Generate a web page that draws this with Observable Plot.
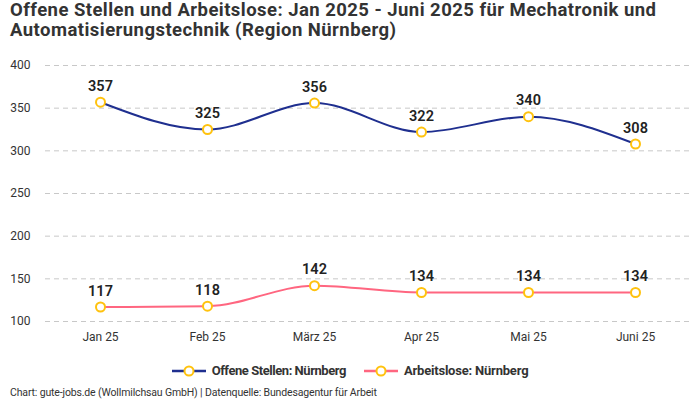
<!DOCTYPE html>
<html>
<head>
<meta charset="utf-8">
<script src="https://cdn.jsdelivr.net/npm/d3@7"></script>
<script src="https://cdn.jsdelivr.net/npm/@observablehq/plot@0.6"></script>
<style>
  body { margin: 0; background: #fff; font-family: Roboto, sans-serif; width: 700px; height: 400px; overflow: hidden; }
  #title { position: absolute; left: 10px; top: 0px; font-weight: 700; font-size: 18.5px; line-height: 20px; letter-spacing: 0.45px; color: #333; width: 690px; }
  #chart { position: absolute; left: 0; top: 45px; }
  #legend { position: absolute; left: 0; top: 363px; width: 700px; text-align: center; font-size: 13px; font-weight: 700; color: #333; letter-spacing: -0.2px; }
  #legend span.item { display: inline-flex; align-items: center; margin: 0 9px; }
  #legend svg { margin-right: 6px; }
  #legend span.item:first-child { letter-spacing: -0.45px; }
  #footer { position: absolute; left: 10px; top: 386px; font-size: 10.5px; color: #333; letter-spacing: -0.15px; }
</style>
</head>
<body>
<div id="title">Offene Stellen und Arbeitslose: Jan 2025 - Juni 2025 für Mechatronik und Automatisierungstechnik (Region Nürnberg)</div>
<div id="chart"></div>
<div id="legend"></div>
<div id="footer">Chart: gute-jobs.de (Wollmilchsau GmbH) | Datenquelle: Bundesagentur für Arbeit</div>
<script>
const months = ["Jan 25", "Feb 25", "März 25", "Apr 25", "Mai 25", "Juni 25"];
const offeneStellen = [357, 325, 356, 322, 340, 308];
const arbeitslose = [117, 118, 142, 134, 134, 134];
const seriesNames = ["Offene Stellen: Nürnberg", "Arbeitslose: Nürnberg"];
const seriesColors = ["#1f2f8f", "#ff6680"];
const yTicks = [100, 150, 200, 250, 300, 350, 400];
const markerColor = "#ffc20e";

const data = [];
[offeneStellen, arbeitslose].forEach((vals, si) => {
  vals.forEach((v, i) => data.push({ month: months[i], value: v, series: seriesNames[si] }));
});

const chart = Plot.plot({
  width: 700,
  height: 305,
  marginLeft: 45,
  marginRight: 10,
  marginTop: 20,
  marginBottom: 29,
  style: { fontFamily: "Roboto, sans-serif", fontSize: "12px", color: "#333", background: "transparent" },
  x: { type: "point", domain: months, padding: 0.5, label: null },
  y: { domain: [100, 400], ticks: yTicks, label: null },
  color: { domain: seriesNames, range: seriesColors },
  marks: [
    Plot.gridY(yTicks, { stroke: "#c8c8c8", strokeOpacity: 1, strokeDasharray: "5,4" }),
    Plot.axisY(yTicks, { tickSize: 0, tickPadding: 15, fontSize: 12, fill: "#333" }),
    Plot.axisX({ tickSize: 0, tickPadding: 11, fontSize: 12, fill: "#333" }),
    Plot.line(data, { x: "month", y: "value", z: "series", stroke: "series", strokeWidth: 2, curve: "monotone-x" }),
    Plot.dot(data, { x: "month", y: "value", r: 4.5, fill: "white", stroke: markerColor, strokeWidth: 2 }),
    Plot.text(data, { x: "month", y: "value", text: d => String(d.value), dy: -16, fontSize: 14.5, fontWeight: 600, fill: "#222" })
  ]
});
document.getElementById("chart").appendChild(chart);

const legend = document.getElementById("legend");
seriesNames.forEach((name, i) => {
  const item = document.createElement("span");
  item.className = "item";
  item.innerHTML = `<svg width="34" height="14"><line x1="0" x2="34" y1="7" y2="7" stroke="${seriesColors[i]}" stroke-width="2.5"/><circle cx="17" cy="7" r="4.5" fill="white" stroke="${markerColor}" stroke-width="2"/></svg>${name}`;
  legend.appendChild(item);
});
</script>
</body>
</html>
